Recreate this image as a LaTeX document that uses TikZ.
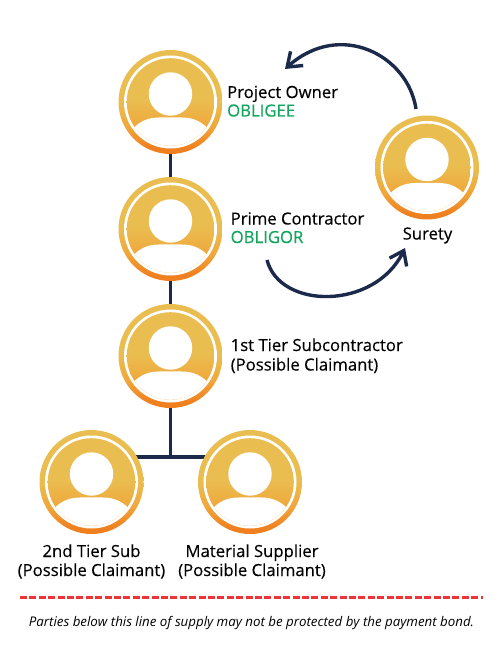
\documentclass[tikz,border=0pt]{standalone}
\usepackage{fontspec}
\setmainfont{Open Sans}[FakeBold=0.3]
\newfontfamily\notefont{Open Sans}
\usetikzlibrary{arrows.meta,calc,backgrounds}
\definecolor{navy}{HTML}{1B2A4A}
\definecolor{gold}{HTML}{EABD50}
\definecolor{amber}{HTML}{F0A63A}
\definecolor{deep}{HTML}{F0801F}
\definecolor{okgreen}{HTML}{12A55C}
\definecolor{redline}{HTML}{EE3338}
\pgfdeclareverticalshading{ringshade}{100bp}{color(0bp)=(deep); color(28bp)=(deep); color(38bp)=(amber); color(50bp)=(gold); color(100bp)=(gold)}
\pgfdeclareverticalshading{discshade}{100bp}{color(0bp)=(amber); color(35bp)=(amber); color(51bp)=(gold); color(100bp)=(gold)}
\tikzset{
  person/.style={circle,minimum size=104pt,inner sep=0pt,shading=ringshade,
    path picture={
      \coordinate (c) at (path picture bounding box.center);
      \fill[white] (c) circle[radius=46.5pt];
      \begin{scope}
        \clip (c) circle[radius=43.8pt];
        \shade[shading=discshade] ($(c)+(-44pt,-44pt)$) rectangle ($(c)+(44pt,44pt)$);
        \fill[white] ($(c)+(-36pt,-25pt)$) .. controls ($(c)+(-24pt,-14pt)$) and ($(c)+(-14pt,-15.5pt)$) .. ($(c)+(0pt,-15.5pt)$) .. controls ($(c)+(14pt,-15.5pt)$) and ($(c)+(24pt,-14pt)$) .. ($(c)+(36pt,-25pt)$) -- ($(c)+(48pt,-50pt)$) -- ($(c)+(-48pt,-50pt)$) -- cycle;
      \end{scope}
      \fill[white] ($(c)+(0pt,8pt)$) circle[radius=21.7pt];
    }},
  link/.style={draw=navy,line width=3.4pt},
  swing/.style={draw=navy,line width=3.4pt,-{Straight Barb[length=13pt,width=19pt,line width=3.4pt]}},
  partylabel/.style={anchor=base west,inner sep=0pt,font=\fontsize{16.7}{18}\selectfont,text=black},
  rolelabel/.style={partylabel,text=okgreen},
  centerlabel/.style={anchor=base,inner sep=0pt,align=center,font=\fontsize{16.7}{19.5}\selectfont,text=black},
}
\begin{document}
\begin{tikzpicture}[x=1pt,y=-1pt]
\useasboundingbox (0,0) rectangle (500,666);
\node[person] (owner) at (170.5,102) {};
\node[person] (prime) at (170.5,229) {};
\node[person] (first) at (170.5,356) {};
\node[person] (second) at (91.5,482) {};
\node[person] (supplier) at (250,482) {};
\node[person] (surety) at (427,167.5) {};
\coordinate (junction) at (170.5,457);
\begin{scope}[on background layer]
\draw[link] (owner) -- (prime);
\draw[link] (prime) -- (first);
\draw[link] (first) -- (junction);
\draw[link] (second.center |- junction) -- (supplier.center |- junction);
\end{scope}
\coordinate (a1) at (416,109);
\coordinate (a2) at (285,69);
\coordinate (b1) at (267,260);
\coordinate (b2) at (405,248);
\draw[swing] (a1) .. controls (408,55) and (340,20) .. (a2);
\draw[swing] (b1) .. controls (280,310) and (375,310) .. (b2);
\node[partylabel] (ownername) at (227,98) {Project Owner};
\node[rolelabel] (ownerrole) at (227,116.5) {OBLIGEE};
\node[partylabel] (primename) at (230.5,224.5) {Prime Contractor};
\node[rolelabel] (primerole) at (230.5,243) {OBLIGOR};
\node[partylabel] (firstname) at (230.5,351) {1st Tier Subcontractor};
\node[partylabel] (firstnote) at (230.5,370.5) {(Possible Claimant)};
\node[centerlabel] (suretyname) at (427.5,239.5) {Surety};
\node[centerlabel] (secondname) at (91.5,557) {2nd Tier Sub};
\node[centerlabel] (secondnote) at (91.5,576) {(Possible Claimant)};
\node[centerlabel] (suppliername) at (252,557) {Material Supplier};
\node[centerlabel] (suppliernote) at (252,576) {(Possible Claimant)};
\coordinate (d1) at (20,597.5);
\coordinate (d2) at (483,597.5);
\draw[draw=redline,line width=3.8pt,dash pattern=on 7pt off 2.4pt] (d1) -- (d2);
\node[anchor=base,inner sep=0pt,font=\fontsize{13.3}{14}\notefont\itshape\selectfont] (note) at (251.5,626) {Parties below this line of supply may not be protected by the payment bond.};
\end{tikzpicture}
\end{document}
